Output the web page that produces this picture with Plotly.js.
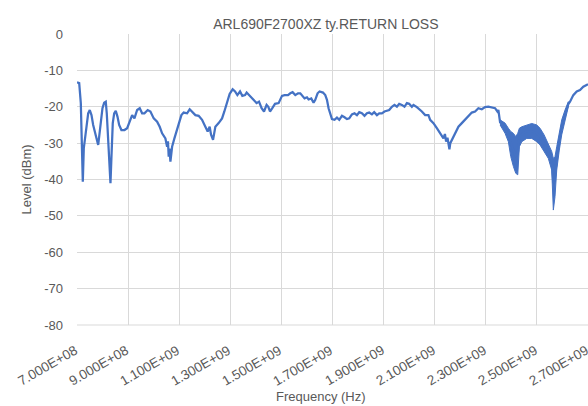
<!DOCTYPE html>
<html>
<head>
<meta charset="utf-8">
<script src="https://cdn.plot.ly/plotly-3.0.1.min.js"></script>
<style>html,body{margin:0;padding:0;background:#fff;}#chart{width:588px;height:406px;}</style>
</head>
<body>
<div id="chart"></div>
<script>
// Frequency in MHz (converted to Hz for plotting)
const freqMHz = [
 700,708.6,714.9,718.8,722.7,726.6,732.1,737.1,743.8,750,756.7,763.3,771.2,777.4,782.9,786.8,793.1,799.7,806.4,812.6,
 816.5,822,827.1,831,834.9,840,845.5,851.7,858.4,865,873.8,885.7,896.3,906.4,915.8,924.8,935.4,945.5,954.9,963.9,
 976.8,987.4,1000.3,1013.6,1023.7,1033.1,1046,1052.7,1056,1058.9,1062,1065.6,1068.5,1072.2,1081.2,1089,1098,1108.6,1117.6,1130.9,
 1141,1150.4,1163.3,1176.2,1189.5,1202.4,1211.4,1219.2,1224.7,1232.5,1241.5,1254.4,1267.7,1276.7,1287.3,1297.4,1309.2,1318.6,1327.6,1338.1,
 1347.1,1357.7,1364,1373.3,1383.5,1394,1403,1412.4,1422.6,1432,1442.1,1448.8,1455.4,1464.4,1475,1489.1,1502.3,1512.5,1525.8,1534.8,
 1543.8,1554.4,1564.9,1573.9,1582.9,1590.7,1600.1,1606.4,1616.9,1625.9,1632.6,1641.6,1649.4,1662.7,1671.7,1678.3,1684.6,1691.2,1697.9,1708,
 1717.4,1726.4,1737,1747.1,1756.5,1765.5,1776,1786.2,1795.6,1804.6,1815.1,1825.3,1834.7,1843.6,1854.2,1863.2,1873.8,1882.8,1893.3,1903.5,
 1912.9,1921.9,1932.4,1942.6,1952,1961,1971.5,1981.7,1991.1,2000,2010.6,2016.9,2030.2,2040.3,2049.7,2062.6,2075.5,2082.2,2095.1,2108.4,
 2121.3,2134.2,2140,2144.7,2150,2154,2157.6,2161,2167,2180,2192.9,2206.1,2219,2231.9,2245.2,2258.1,2271,2284.3,2297.2,2310.1,
 2323.4,2336.3,2345.3,2349.2,2355.9,2375.4,2388.3,2397.7,2407.9,2417.3,2425.1,2431.4,2440.8,2460.3,2479.9,2499.4,2512.3,2528,2544.7,2558,
 2564.3,2570.9,2577.6,2587.7,2597.2,2610.1,2623,2629.6,2642.5,2655.8,2668.7,2681.6,2694.9,2700
];
// Return loss level in dBm
const levelDbm = [
 -13.3,-13.5,-19,-28.2,-40.6,-31.4,-28.2,-24.5,-21.8,-20.9,-22.3,-25,-27.3,-29.6,-30.5,-28.2,-24.5,-20.4,-18.9,-18.6,
 -21.8,-30,-37.4,-41,-33.7,-24.5,-21.8,-21.1,-22.7,-25,-26.4,-26.4,-25.9,-24.1,-22.3,-23.2,-20.9,-20.4,-21.8,-21.8,
 -20.9,-21.3,-23.2,-24.1,-25.5,-27.3,-28.7,-31,-29.5,-33.7,-31.5,-35.1,-32,-31,-28.7,-26.8,-24.5,-22.3,-21.6,-21.8,
 -20.7,-21.3,-22.3,-22.5,-23.6,-25.5,-26.8,-25.5,-27.7,-29.1,-25.5,-24.5,-23.2,-21.3,-18.5,-16.5,-15.2,-15.8,-16.8,-15.8,
 -17,-16.8,-16.1,-16.8,-17.7,-18.3,-19,-18.6,-20.4,-21.3,-19.5,-20,-21.3,-20.4,-19.2,-19,-17,-16.8,-16.8,-16.3,
 -16,-16.8,-16.3,-16.3,-17,-17.7,-17.4,-18,-17.7,-18.9,-18.1,-16.3,-15.8,-16.1,-16.8,-18.1,-20.4,-22.3,-23.4,-23.6,
 -23,-23.6,-22.5,-22.9,-23.4,-23.2,-22.1,-21.8,-22.3,-21.5,-21.8,-22.5,-21.8,-21.6,-22.1,-21.5,-22.3,-21.8,-21.8,-21.3,
 -21.1,-20.9,-20,-19.5,-20,-19.2,-19.5,-20,-19,-19.2,-20,-19.5,-20.1,-20.6,-21.3,-22.3,-22.3,-23.6,-24.5,-25.9,
 -27.3,-28.7,-27.5,-29.6,-28.5,-30.5,-31.7,-30,-29.1,-27.3,-25.5,-24.5,-23.6,-22.7,-21.6,-21.3,-20.4,-20.7,-20.1,-20,
 -20.1,-20.4,-21.3,-20.9,-24.3,-25.9,-27.7,-30,-32,-33.5,-33,-28.5,-27.5,-26.8,-26.8,-27.3,-28.2,-30,-32.3,-34.8,
 -41,-39,-34.2,-29.3,-25.6,-22.2,-19.3,-18.6,-16.8,-15.8,-15.4,-14.5,-14,-13.8
];
// Noise envelope (upper / lower) of the ripple band, 2.36–2.62 GHz
const bandMHz = [2355.9,2375.4,2388.3,2397.7,2407.9,2417.3,2425.1,2431.4,2440.8,2460.3,2479.9,2499.4,2512.3,2528,2544.7,2558,2564.3,2570.9,2577.6,2587.7,2597.2,2610.1,2623];
const bandUpper = [-23.6,-24.5,-25.9,-26.8,-27.3,-28.2,-27.3,-25.9,-25.5,-25,-24.6,-25,-25.9,-27.7,-30.5,-32.3,-34.2,-33.7,-31,-26.8,-23.6,-20.9,-18.6];
const bandLower = [-25,-27.3,-29.6,-33.7,-36.4,-38.3,-38.7,-31,-29.6,-28.7,-28.7,-29.6,-30.5,-32.3,-34.2,-37.4,-48.4,-44.7,-37.4,-31.9,-27.7,-23.6,-20];

const xTickVals = [7e8, 9e8, 1.1e9, 1.3e9, 1.5e9, 1.7e9, 1.9e9, 2.1e9, 2.3e9, 2.5e9, 2.7e9];
const xTickText = ["7.000E+08","9.000E+08","1.100E+09","1.300E+09","1.500E+09","1.700E+09","1.900E+09","2.100E+09","2.300E+09","2.500E+09","2.700E+09"];
const yTickVals = [0,-10,-20,-30,-40,-50,-60,-70,-80];

const blue = '#4472c4';
const toHz = a => a.map(f => f * 1e6);
const band = {
  x: toHz(bandMHz.concat(bandMHz.slice().reverse())),
  y: bandUpper.concat(bandLower.slice().reverse()),
  type: 'scatter', mode: 'lines', fill: 'toself', fillcolor: blue,
  line: {color: blue, width: 1}, hoverinfo: 'skip'
};
const trace = {
  x: toHz(freqMHz), y: levelDbm,
  type: 'scatter', mode: 'lines',
  line: {color: blue, width: 2.25}
};
const fam = '"Liberation Sans", Arial, sans-serif';
const grey = '#595959';

// Rotated x tick labels, placed at the axis tick values
const tickAnns = xTickVals.map((v, i) => ({
  x: v, xref: 'x', y: 0, yref: 'paper',
  text: xTickText[i], showarrow: false, textangle: -30,
  xanchor: 'right', yanchor: 'top', xshift: 6, yshift: -15,
  font: {family: fam, size: 13.5, color: grey}
}));
const layout = {
  width: 588, height: 406,
  margin: {l: 77, r: 0, t: 34, b: 81},
  paper_bgcolor: '#ffffff', plot_bgcolor: '#ffffff',
  showlegend: false,
  font: {family: fam, color: grey, size: 13},
  title: {text: 'ARL690F2700XZ ty.RETURN LOSS', font: {family: fam, size: 14, color: grey},
          x: 0.487, xanchor: 'center', xref: 'paper', y: 1 - 24/406, yanchor: 'middle', yref: 'container'},
  xaxis: {
    range: [7e8, 2.7e9], tickvals: xTickVals, showticklabels: false,
    showgrid: true, gridcolor: '#d9d9d9', gridwidth: 1, zeroline: false, showline: false,
    ticks: ''
  },
  yaxis: {
    range: [-80, 0], tickvals: yTickVals, ticktext: yTickVals.map(String),
    showgrid: true, gridcolor: '#d9d9d9', gridwidth: 1, zeroline: false, showline: false,
    ticks: '', ticklabelstandoff: 13,
    tickfont: {family: fam, size: 13, color: grey},
    title: {text: 'Level (dBm)', font: {family: fam, size: 13, color: grey}, standoff: 9}
  },
  annotations: tickAnns.concat([
    {text: 'Frequency (Hz)', showarrow: false, xref: 'paper', yref: 'paper',
     x: (320.5 - 77) / 511, y: (325 - 396) / 291, xanchor: 'center', yanchor: 'middle',
     font: {family: fam, size: 13, color: grey}}
  ]),
  shapes: [
    {type: 'line', xref: 'paper', yref: 'paper', x0: 0, x1: 1, y0: 0, y1: 0, line: {color: '#d9d9d9', width: 1}}
  ]
};
Plotly.newPlot('chart', [band, trace], layout, {displayModeBar: false, staticPlot: true});
</script>
</body>
</html>
